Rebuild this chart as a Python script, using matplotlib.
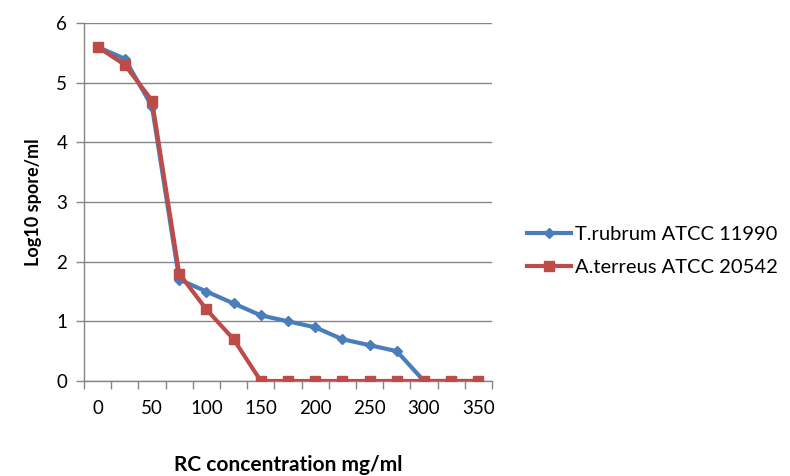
import matplotlib
matplotlib.use("Agg")
import matplotlib.pyplot as plt

conc = [0, 25, 50, 75, 100, 125, 150, 175, 200, 225, 250, 275, 300, 325, 350]
t_rubrum = [5.6, 5.4, 4.6, 1.7, 1.5, 1.3, 1.1, 1.0, 0.9, 0.7, 0.6, 0.5, 0.0, 0.0, 0.0]
a_terreus = [5.6, 5.3, 4.7, 1.8, 1.2, 0.7, 0.0, 0.0, 0.0, 0.0, 0.0, 0.0, 0.0, 0.0, 0.0]
xticks = [0, 50, 100, 150, 200, 250, 300, 350]
yticks = [0, 1, 2, 3, 4, 5, 6]

plt.rcParams['font.family'] = ['Lato', 'DejaVu Sans']

fig = plt.figure(figsize=(7.9, 4.76), dpi=100)
ax = fig.add_axes([84/790, 95/476, 408/790, 358/476])

blue = '#4A7EBB'
red = '#BE4B48'
ax.plot(conc, t_rubrum, color=blue, lw=3.0, marker='D', ms=5.5, label='T.rubrum ATCC 11990', zorder=3)
ax.plot(conc, a_terreus, color=red, lw=3.0, marker='s', ms=7.5, label='A.terreus ATCC 20542', zorder=4)

ax.set_xlim(-12.5, 362.5)
ax.set_ylim(0, 6)
ax.set_yticks(yticks)
ax.set_xticks(xticks)
ax.set_xticks([-12.5 + 25 * i for i in range(16)], minor=True)
ax.tick_params(axis='x', which='major', length=0, pad=14, labelsize=13.5)
ax.tick_params(axis='x', which='minor', length=6, width=1, color='#868686', direction='out')
ax.tick_params(axis='y', length=6, width=1, color='#868686', labelsize=13.5, pad=6)
ax.grid(axis='y', color='#868686', lw=1)
ax.set_axisbelow(True)
for s in ['top', 'right']:
    ax.spines[s].set_visible(False)
for s in ['left', 'bottom']:
    ax.spines[s].set_color('#868686')
    ax.spines[s].set_linewidth(1)

ax.set_ylabel('Log10 spore/ml', fontsize=13, fontweight='bold', labelpad=10)
fig.text(288/790, 1 - 465/476, 'RC concentration mg/ml', fontsize=15, fontweight='bold', ha='center', va='center')

leg = fig.legend(loc='center left', bbox_to_anchor=(527/790, 1 - 251/476), frameon=False,
                 fontsize=14.5, handlelength=2.2, labelspacing=0.8, handletextpad=0.2,
                 borderpad=0, borderaxespad=0)

fig.savefig('out.png', dpi=100)
